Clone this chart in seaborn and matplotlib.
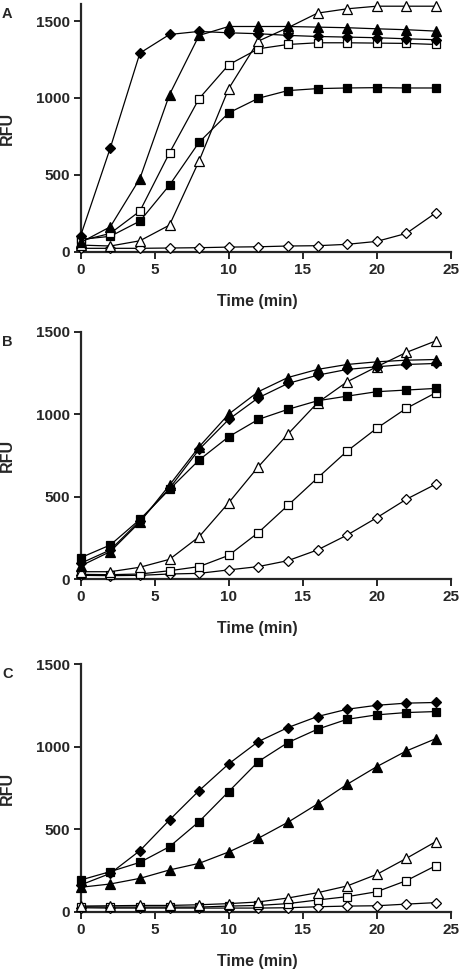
import matplotlib
matplotlib.use("Agg")
import matplotlib.pyplot as plt
import seaborn as sns
import numpy as np
import pandas as pd

time = [0, 2, 4, 6, 8, 10, 12, 14, 16, 18, 20, 22, 24]

# Panel A
a_filled_diamond = [105, 675, 1292, 1413, 1433, 1424, 1418, 1407, 1400, 1396, 1392, 1385, 1379]
a_filled_triangle = [60, 162, 476, 1022, 1407, 1465, 1465, 1465, 1461, 1457, 1450, 1444, 1435]
a_open_square = [71, 119, 264, 643, 996, 1216, 1320, 1348, 1359, 1359, 1357, 1355, 1348]
a_filled_square = [80, 100, 199, 433, 712, 903, 998, 1048, 1061, 1065, 1067, 1065, 1065]
a_open_triangle = [43, 37, 71, 173, 591, 1061, 1370, 1457, 1552, 1580, 1597, 1597, 1597]
a_open_diamond = [22, 22, 22, 24, 26, 30, 32, 37, 39, 48, 67, 119, 253]

# Panel B
b_filled_diamond = [97, 178, 355, 551, 787, 969, 1100, 1187, 1237, 1272, 1288, 1302, 1308]
b_filled_triangle = [81, 168, 347, 571, 803, 1001, 1137, 1223, 1272, 1302, 1318, 1328, 1332]
b_filled_square = [131, 208, 363, 545, 723, 864, 969, 1030, 1082, 1110, 1137, 1147, 1157]
b_open_triangle = [46, 46, 73, 121, 258, 464, 682, 880, 1070, 1197, 1288, 1375, 1445]
b_open_square = [30, 28, 32, 52, 77, 145, 283, 448, 614, 777, 915, 1036, 1131]
b_open_diamond = [24, 22, 24, 32, 36, 57, 77, 113, 178, 268, 373, 485, 577]

# Panel C
c_filled_diamond = [162, 232, 370, 556, 734, 896, 1031, 1116, 1183, 1227, 1251, 1264, 1268]
c_filled_square = [192, 243, 299, 394, 546, 728, 910, 1025, 1106, 1166, 1193, 1207, 1213]
c_filled_triangle = [148, 168, 202, 253, 293, 362, 445, 542, 653, 772, 879, 974, 1049]
c_open_triangle = [34, 36, 38, 38, 42, 49, 59, 83, 115, 156, 226, 323, 425]
c_open_square = [30, 28, 28, 28, 28, 34, 38, 49, 71, 91, 121, 188, 279]
c_open_diamond = [24, 22, 22, 22, 22, 22, 22, 24, 30, 34, 36, 46, 55]

panel_labels = ["A", "B", "C"]
x_ticks = [0, 5, 10, 15, 20, 25]
y_ticks = [0, 500, 1000, 1500]

STYLE = {
    "filled_diamond": ("D", "black", 5.2),
    "filled_triangle": ("^", "black", 6.5),
    "filled_square": ("s", "black", 6.0),
    "open_triangle": ("^", "white", 6.5),
    "open_square": ("s", "white", 6.0),
    "open_diamond": ("D", "white", 5.2),
}

panels = [
    [("open_diamond", a_open_diamond), ("filled_square", a_filled_square),
     ("open_square", a_open_square), ("open_triangle", a_open_triangle),
     ("filled_triangle", a_filled_triangle), ("filled_diamond", a_filled_diamond)],
    [("open_diamond", b_open_diamond), ("open_square", b_open_square),
     ("open_triangle", b_open_triangle), ("filled_square", b_filled_square),
     ("filled_diamond", b_filled_diamond), ("filled_triangle", b_filled_triangle)],
    [("open_diamond", c_open_diamond), ("open_square", c_open_square),
     ("open_triangle", c_open_triangle), ("filled_triangle", c_filled_triangle),
     ("filled_square", c_filled_square), ("filled_diamond", c_filled_diamond)],
]

sns.set_style("ticks")
plt.rcParams["font.family"] = ["Liberation Sans", "DejaVu Sans"]
plt.rcParams["font.weight"] = "bold"

W, H = 459, 969
fig = plt.figure(figsize=(W / 100, H / 100), dpi=100)

axes_rects = [
    (80.7, 251.7),
    (80.7, 579.3),
    (80.7, 911.7),
]
ylims = [(0, 1610), (0, 1500), (0, 1500)]
ax_h = 247.5
ax_w = 370.0

for i, (series_list, (lx, ybot)) in enumerate(zip(panels, axes_rects)):
    ax = fig.add_axes([lx / W, (H - ybot) / H, ax_w / W, ax_h / H])
    for key, vals in series_list:
        m, fc, ms = STYLE[key]
        sns.lineplot(x=time, y=vals, ax=ax, color="black", marker=m,
                     markerfacecolor=fc, markeredgecolor="black",
                     markeredgewidth=0.9, markersize=ms, linewidth=0.9,
                     clip_on=False, zorder=3)
    ax.set_xlim(0, 25)
    ax.set_ylim(*ylims[i])
    ax.set_xticks(x_ticks)
    ax.set_yticks(y_ticks)
    ax.set_xticklabels([str(t) for t in x_ticks], fontsize=11, fontweight="bold")
    ax.set_yticklabels([str(t) for t in y_ticks], fontsize=11, fontweight="bold")
    ax.tick_params(direction="out", length=5, width=1.4, pad=3)
    for s in ["top", "right"]:
        ax.spines[s].set_visible(False)
    for s in ["left", "bottom"]:
        ax.spines[s].set_linewidth(1.6)
    ax.set_xlabel("Time (min)", fontsize=11.5, fontweight="bold")
    ax.set_ylabel("RFU", fontsize=11.5, fontweight="bold")
    ax.xaxis.set_label_coords(0.476, -0.17)
    ax.yaxis.set_label_coords(-0.178, 0.5)
    top_px = ybot - ax_h
    fig.text(2 / W, (H - (top_px + 10)) / H, panel_labels[i], fontsize=10.5,
             fontweight="bold", ha="left", va="center")
    if ax.get_legend():
        ax.get_legend().remove()

fig.savefig("out.png", dpi=100)
